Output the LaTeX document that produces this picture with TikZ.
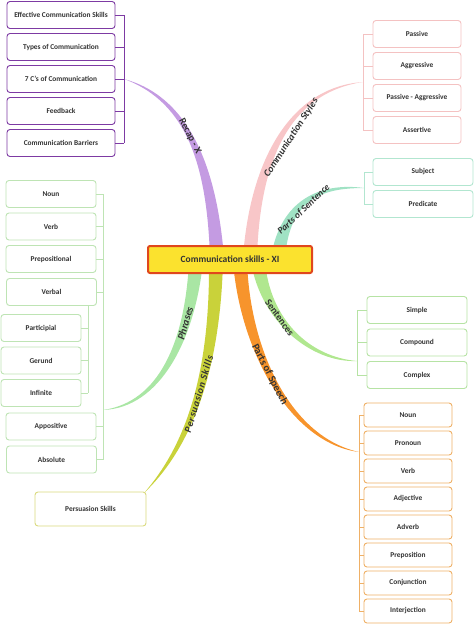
\documentclass[tikz,border=0pt]{standalone}
\usepackage{fontspec}
\setmainfont{Carlito}
\usetikzlibrary{calc,backgrounds}
\definecolor{rootfill}{HTML}{FBE22E}
\definecolor{rootline}{HTML}{E0471C}
\definecolor{rcbr}{HTML}{C49BE2}
\definecolor{rcln}{HTML}{7D3AA3}
\definecolor{csbr}{HTML}{F8C6C8}
\definecolor{csln}{HTML}{F4C2C2}
\definecolor{pobr}{HTML}{A0E2C4}
\definecolor{poln}{HTML}{B2E6D0}
\definecolor{sebr}{HTML}{B0E78F}
\definecolor{seln}{HTML}{B6E3A4}
\definecolor{spbr}{HTML}{F7942C}
\definecolor{spln}{HTML}{EFB066}
\definecolor{phbr}{HTML}{A9E6A4}
\definecolor{phln}{HTML}{BEE4B4}
\definecolor{psbr}{HTML}{C9D23A}
\definecolor{psln}{HTML}{DADA7E}
\tikzset{
  mmbox/.style={draw, rounded corners=3pt, fill=white, line width=0.9pt, minimum height=27pt, inner sep=1pt, font=\bfseries\fontsize{7.4}{9}\selectfont, text=black!80},
  rcbox/.style={mmbox, draw=rcln, minimum width=108pt},
  csbox/.style={mmbox, draw=csln, minimum width=88pt},
  pobox/.style={mmbox, draw=poln, minimum width=100pt},
  sebox/.style={mmbox, draw=seln, minimum width=100pt},
  spbox/.style={mmbox, draw=spln, minimum width=88pt, minimum height=24pt},
  phbox/.style={mmbox, draw=phln, minimum width=90pt},
  psbox/.style={mmbox, draw=psln, minimum width=111pt, minimum height=34pt},
  brk/.style={line width=0.9pt},
  brlbl/.style={sloped, inner sep=0pt, font=\bfseries\fontsize{10}{11}\selectfont, text=black!80},
  brit/.style={brlbl, font=\bfseries\itshape\fontsize{10}{11}\selectfont},
  rootbox/.style={draw=rootline, fill=rootfill, line width=2pt, rounded corners=2pt, minimum width=164pt, minimum height=27pt, text=black!80, font=\bfseries\fontsize{9.5}{11}\selectfont}
}
% tapered branch: colour, start, c1, c2, end, c2 offset, label options, label
\newcommand{\mmbranch}[8]{%
  \fill[#1] ($(#2)+(-7,0)$) .. controls ($(#3)+(-5,0)$) and ($(#4)+(#6)$) .. (#5)
    .. controls ($(#4)-(#6)$) and ($(#3)+(5,0)$) .. ($(#2)+(7,0)$) -- cycle;
  \path (#2) .. controls (#3) and (#4) .. (#5) node[#7] {#8};}
\begin{document}
\begin{tikzpicture}[x=1pt, y=-1pt]
  \useasboundingbox (0,0) rectangle (474,624);
  \node[rootbox] (root) at (230,259.5) {Communication skills - XI};
  % recap
  \foreach \t [count=\i] in {Effective Communication Skills, Types of Communication, 7 C's of Communication, Feedback, Communication Barriers}
    \node[rcbox] (rc\i) at (61,{15+32*(\i-1)}) {\t};
  % communication styles
  \foreach \t [count=\i] in {Passive, Aggressive, Passive - Aggressive, Assertive}
    \node[csbox] (cs\i) at (417,{34+32*(\i-1)}) {\t};
  % parts of sentence
  \node[pobox] (po1) at (423,172) {Subject};
  \node[pobox] (po2) at (423,204) {Predicate};
  % sentences
  \foreach \t [count=\i] in {Simple, Compound, Complex}
    \node[sebox] (se\i) at (417,{310+32.5*(\i-1)}) {\t};
  % parts of speech
  \foreach \t [count=\i] in {Noun, Pronoun, Verb, Adjective, Adverb, Preposition, Conjunction, Interjection}
    \node[spbox] (sp\i) at (408,{415+28*(\i-1)}) {\t};
  % phrases
  \node[phbox] (ph1) at (51,194) {Noun};
  \node[phbox] (ph2) at (51,226.5) {Verb};
  \node[phbox] (ph3) at (51,259) {Prepositional};
  \node[phbox] (ph4) at (51.5,292) {Verbal};
  \node[phbox, minimum width=80pt] (ph5) at (41,328) {Participial};
  \node[phbox, minimum width=80pt] (ph6) at (41,360.5) {Gerund};
  \node[phbox, minimum width=80pt] (ph7) at (41,393) {Infinite};
  \node[phbox] (ph8) at (51,426.5) {Appositive};
  \node[phbox] (ph9) at (51.5,459.5) {Absolute};
  % persuasion
  \node[psbox] (ps) at (90.5,509) {Persuasion Skills};

  \coordinate (rcJ) at (124,79);
  \coordinate (csJ) at (363,82);
  \coordinate (poJ) at (364,188);
  \coordinate (seJ) at (357,361);
  \coordinate (spJ) at (359,452);
  \coordinate (phJ) at (103,410);
  \coordinate (phK) at (88,306);
  \coordinate (psJ) at ($(ps.north east)+(-2,1)$);

  % brackets
  \draw[brk, rcln] (rc1.east -| rcJ) -- (rc5.east -| rcJ);
  \foreach \i in {1,...,5} \draw[brk, rcln] (rc\i.east) -- (rc\i.east -| rcJ);
  \draw[brk, csln] (cs1.west -| csJ) -- (cs4.west -| csJ);
  \foreach \i in {1,...,4} \draw[brk, csln] (cs\i.west) -- (cs\i.west -| csJ);
  \draw[brk, poln] (po1.west -| poJ) -- (po2.west -| poJ);
  \foreach \i in {1,2} \draw[brk, poln] (po\i.west) -- (po\i.west -| poJ);
  \draw[brk, seln] (se1.west -| seJ) -- (se3.west -| seJ);
  \foreach \i in {1,...,3} \draw[brk, seln] (se\i.west) -- (se\i.west -| seJ);
  \draw[brk, spln] (sp1.west -| spJ) -- (sp8.west -| spJ);
  \foreach \i in {1,...,8} \draw[brk, spln] (sp\i.west) -- (sp\i.west -| spJ);
  \draw[brk, phln] (ph1.east -| phJ) -- (ph9.east -| phJ);
  \foreach \i in {1,2,3,4,8,9} \draw[brk, phln] (ph\i.east) -- (ph\i.east -| phJ);
  \draw[brk, phln] (ph4.south -| phK) -- (ph7.east -| phK);
  \foreach \i in {5,6,7} \draw[brk, phln] (ph\i.east) -- (ph\i.east -| phK);

  \coordinate (rcS) at ($(root.center)+(-13,-2)$);
  \coordinate (csS) at ($(root.center)+(20,-2)$);
  \coordinate (poS) at ($(root.center)+(48,-2)$);
  \coordinate (seS) at ($(root.center)+(28,2)$);
  \coordinate (spS) at ($(root.center)+(10,2)$);
  \coordinate (phS) at ($(root.center)+(-34,2)$);
  \coordinate (psS) at ($(root.center)+(-14,2)$);

  % branches
  \begin{scope}[on background layer]
    \mmbranch{rcbr}{rcS}{212,170}{190,100}{rcJ}{-0.8,2.9}{brlbl, pos=0.54}{Recap - X}
    \mmbranch{csbr}{csS}{255,160}{290,90}{csJ}{0.5,-3}{brit, pos=0.52, below=5pt}{Communication Styles}
    \mmbranch{pobr}{poS}{285,200}{320,185}{poJ}{0,-3}{brit, pos=0.42, below=1pt, font=\bfseries\itshape\fontsize{9.5}{11}\selectfont}{Parts of Sentence}
    \mmbranch{sebr}{seS}{265,320}{310,360}{seJ}{0,3}{brlbl, pos=0.37}{Sentences}
    \mmbranch{spbr}{spS}{245,350}{290,440}{spJ}{-0.5,3}{brlbl, pos=0.45, font=\bfseries\fontsize{10.5}{11}\selectfont}{Parts of Speech}
    \mmbranch{phbr}{phS}{190,340}{160,405}{phJ}{0,-3}{brit, pos=0.28, font=\bfseries\itshape\fontsize{10.5}{11}\selectfont}{Phrases}
    \mmbranch{psbr}{psS}{215,380}{185,450}{psJ}{-2,-2}{brit, pos=0.45, font=\bfseries\itshape\fontsize{10}{11}\selectfont\addfontfeatures{LetterSpace=8}}{Persuasion Skills}
  \end{scope}
\end{tikzpicture}
\end{document}
